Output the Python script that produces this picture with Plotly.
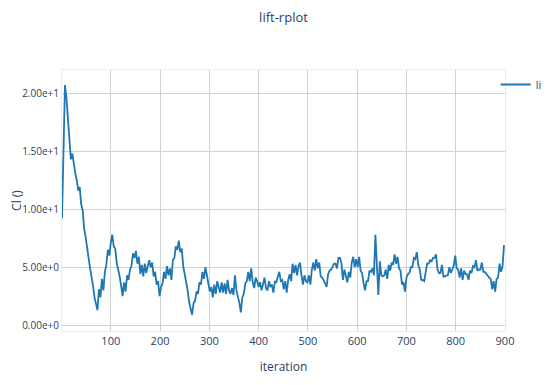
import plotly.graph_objects as go

iterations = list(range(1, 901, 3))

lift = [
    9.2, 15.0, 20.7, 19.6, 17.9, 16.0, 14.3, 14.8, 13.7, 13.1,
    12.5, 11.6, 11.9, 10.4, 9.9, 8.3, 7.6, 6.4, 5.8, 4.9,
    4.3, 3.4, 2.4, 1.8, 1.3, 3.1, 2.4, 4.0, 3.0, 4.6,
    5.2, 6.5, 6.0, 7.1, 7.8, 6.8, 6.6, 5.4, 4.9, 4.2,
    3.4, 2.5, 3.7, 2.9, 4.3, 3.9, 4.8, 5.1, 6.2, 5.8,
    6.4, 5.3, 5.9, 4.4, 5.2, 4.2, 5.3, 4.5, 5.1, 5.6,
    5.0, 5.4, 4.2, 4.6, 3.5, 3.8, 2.5, 3.3, 3.6, 4.6,
    4.0, 5.1, 4.3, 4.9, 3.9, 5.6, 5.8, 6.8, 6.5, 7.3,
    6.3, 6.6, 5.1, 4.5, 3.6, 3.0, 2.0, 1.5, 0.9, 1.9,
    2.1, 2.9, 2.7, 3.7, 3.5, 4.6, 4.0, 5.0, 4.3, 3.9,
    2.9, 3.3, 2.4, 3.5, 2.7, 3.8, 3.3, 2.8, 3.7, 2.8,
    3.6, 2.7, 3.9, 3.0, 2.7, 3.2, 2.6, 4.3, 3.0, 2.5,
    1.9, 1.1, 2.4, 2.7, 3.6, 3.8, 4.6, 3.8, 4.9, 3.7,
    3.2, 4.1, 3.8, 3.3, 3.7, 3.0, 3.6, 4.1, 3.2, 3.0,
    3.8, 3.3, 3.5, 2.8, 3.8, 3.7, 4.2, 4.6, 3.8, 3.9,
    3.1, 3.8, 2.8, 3.9, 4.4, 3.8, 5.3, 4.5, 5.2, 4.3,
    5.1, 5.4, 4.3, 3.5, 4.3, 3.8, 3.7, 4.3, 3.5, 4.8,
    5.4, 4.7, 5.7, 4.9, 5.4, 4.2, 4.1, 3.9, 3.6, 3.3,
    4.4, 4.7, 4.8, 5.0, 5.3, 5.3, 4.9, 5.8, 5.8, 5.4,
    3.9, 4.8, 4.1, 3.7, 4.6, 4.1, 5.4, 5.9, 5.0, 5.7,
    5.0, 5.9, 4.7, 4.5, 3.6, 3.0, 3.8, 3.8, 4.7, 4.6,
    4.9, 4.3, 7.8, 4.8, 2.6, 5.5, 4.3, 4.2, 4.3, 4.8,
    4.0, 5.2, 4.7, 5.4, 5.2, 6.1, 5.3, 5.9, 4.9, 4.7,
    3.5, 3.7, 2.9, 4.1, 4.4, 4.5, 5.0, 5.0, 5.8, 5.7,
    6.3, 5.2, 4.8, 3.9, 3.9, 3.8, 4.8, 5.3, 5.3, 5.6,
    5.5, 5.8, 5.8, 6.1, 4.8, 4.5, 4.5, 5.2, 4.2, 4.2,
    4.3, 4.3, 5.0, 4.5, 4.8, 5.1, 6.0, 4.9, 4.8, 4.1,
    4.9, 3.9, 4.7, 4.4, 4.4, 3.9, 4.7, 4.5, 5.1, 5.0,
    5.6, 4.7, 4.8, 4.8, 5.4, 4.6, 4.6, 4.4, 4.3, 4.1,
    4.0, 3.1, 3.8, 2.9, 4.0, 4.1, 5.3, 4.6, 5.1, 6.9,
]

y_ticks = [0, 5, 10, 15, 20]
x_ticks = [100, 200, 300, 400, 500, 600, 700, 800, 900]

fig = go.Figure()
fig.add_trace(go.Scatter(
    x=iterations, y=lift, mode="lines", name="lift",
    line=dict(color="#1f77b4", width=1.8),
))

font_color = "#2a3f5f"
grid = "#d2d2d2"

fig.update_layout(
    width=550, height=385,
    margin=dict(l=54, r=53, t=62, b=62, autoexpand=False),
    paper_bgcolor="white", plot_bgcolor="white",
    font=dict(family="Open Sans, verdana, arial, sans-serif", size=11, color=font_color),
    title=dict(text="lift-rplot", x=0.5, xref="paper", xanchor="center",
               y=1 - 9 / 385, yref="container", yanchor="middle",
               font=dict(size=13, color=font_color)),
    showlegend=True,
    legend=dict(x=0.979, xanchor="left", y=1.0, yanchor="top",
                font=dict(size=11, color=font_color), bgcolor="rgba(0,0,0,0)"),
    xaxis=dict(
        title=dict(text="iteration", font=dict(size=12, color=font_color)),
        range=[1, 900], tickvals=x_ticks, showgrid=True, gridcolor=grid, gridwidth=1,
        zeroline=False, showline=True, linecolor="#ececec", mirror=True,
        ticks="", tickfont=dict(size=11, color=font_color),
    ),
    yaxis=dict(
        title=dict(text="Cl ()", font=dict(size=12, color=font_color), standoff=4),
        range=[-0.5, 22.0], tickvals=y_ticks, tickformat=".2e",
        showgrid=True, gridcolor=grid, gridwidth=1,
        zeroline=False, showline=True, linecolor="#ececec", mirror=True,
        ticks="", tickfont=dict(size=10, color=font_color),
    ),
)

fig.write_html("out.html")
